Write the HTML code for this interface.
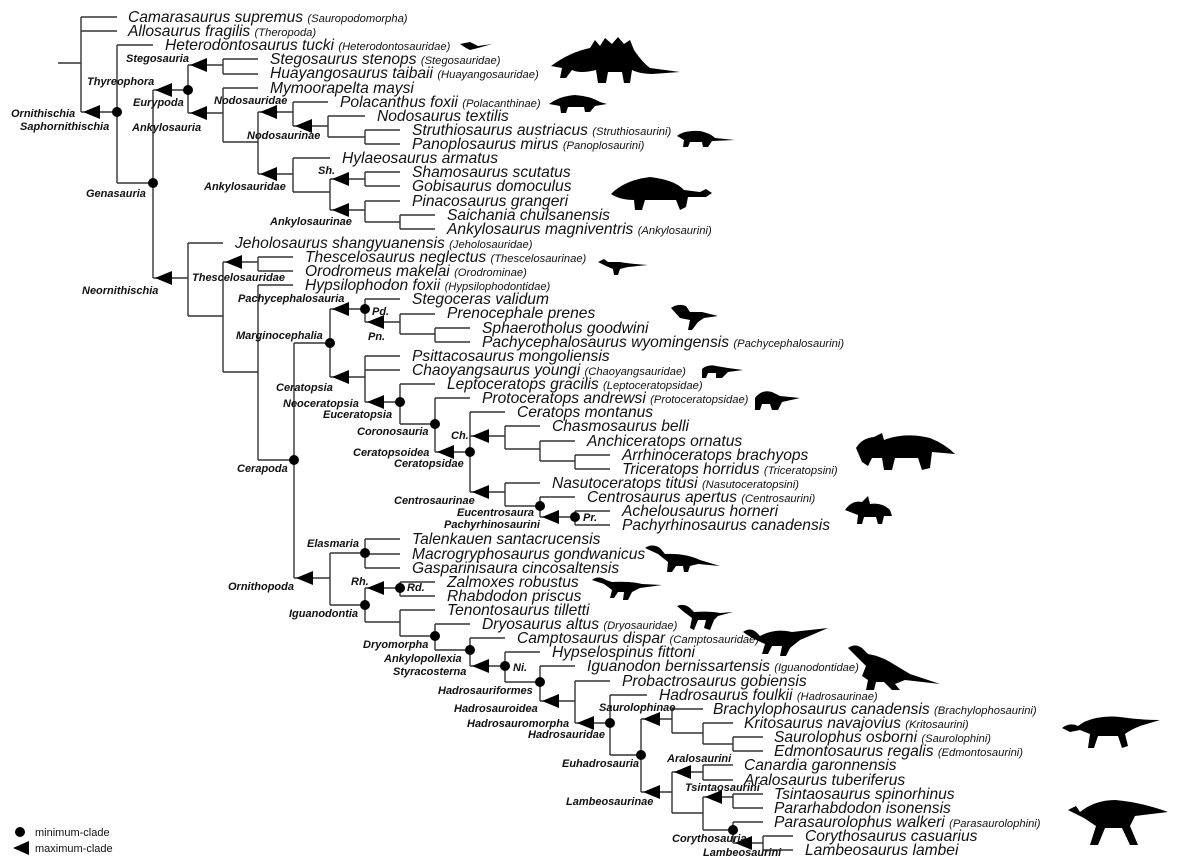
<!DOCTYPE html>
<html><head><meta charset="utf-8"><style>
html,body{margin:0;padding:0;background:#fff;}
svg{display:block;}
.sp{font-family:"Liberation Sans",sans-serif;font-style:italic;font-size:15.6px;fill:#111;}
.sp tspan{font-size:11.2px;}
.lb{font-family:"Liberation Sans",sans-serif;font-style:italic;font-weight:bold;font-size:11px;fill:#111;}
.lg{font-family:"Liberation Sans",sans-serif;font-size:11px;fill:#111;}
</style></head><body>
<svg width="1200" height="868" viewBox="0 0 1200 868" xmlns="http://www.w3.org/2000/svg">
<path fill="none" stroke="#333" stroke-width="1.4" d="
M58 63H81 M81 17V112 M81 17H117 M81 31H117 M81 112H117
M117 45V183 M117 45H153 M117 183H153
M153 90V278 M153 90H188 M188 65V113 M188 65H223 M223 59V74 M223 59H258 M223 74H258
M188 113H223 M223 88V142 M223 88H258 M223 142H258 M258 112V174 M258 112H293 M293 102V126 M293 102H328 M293 126H328 M328 116V137 M328 116H365 M328 137H365 M365 130V144 M365 130H400 M365 144H400
M258 174H293 M293 158V192 M293 158H330 M293 192H330 M330 179V210 M330 179H365 M365 172V186 M365 172H400 M365 186H400 M330 210H365 M365 201V222 M365 201H400 M365 222H400 M400 215V229 M400 215H435 M400 229H435
M153 278H188 M188 243V316 M188 243H223 M188 316H223 M223 262V372 M223 262H258 M258 257V271 M258 257H293 M258 271H293 M223 372H258 M258 285V460 M258 285H293 M258 460H294
M294 343V578 M294 343H330 M330 309V377 M330 309H365 M365 299V322 M365 299H400 M365 322H400 M400 314V334 M400 314H435 M400 334H435 M435 328V342 M435 328H470 M435 342H470
M330 377H365 M365 356V402 M365 356H400 M365 370H400 M365 402H400 M400 384V424 M400 384H435 M400 424H435 M435 398V452 M435 398H470 M435 452H470 M470 412V492 M470 412H505 M470 436H505 M505 426V449 M505 426H540 M505 449H540 M540 441V461 M540 441H575 M540 461H575 M575 455V469 M575 455H610 M575 469H610
M470 492H505 M505 483V506 M505 483H540 M505 506H540 M540 497V517 M540 497H575 M540 517H575 M575 511V525 M575 511H610 M575 525H610
M294 578H330 M330 553V605 M330 553H365 M365 539V568 M365 539H400 M365 554H400 M365 568H400 M330 605H365 M365 588V622 M365 588H400 M400 582V596 M400 582H435 M400 596H435 M365 622H400 M400 610V636 M400 610H435 M400 636H435 M435 624V650 M435 624H470 M435 650H470 M470 638V666 M470 638H505 M470 666H505 M505 652V682 M505 652H540 M505 682H540 M540 666V701 M540 666H575 M540 701H575 M575 681V723 M575 681H610 M575 723H610 M610 695V755 M610 695H647 M610 755H641 M641 719V792 M641 719H672 M672 709V733 M672 709H703 M672 733H703 M703 723V744 M703 723H733 M703 744H733 M733 737V751 M733 737H763 M733 751H763
M641 792H672 M672 772V813 M672 772H703 M703 765V780 M703 765H733 M703 780H733 M672 813H703 M703 797V830 M703 797H733 M733 794V808 M733 794H763 M733 808H763 M703 830H733 M733 822V843 M733 822H763 M733 843H763 M763 836V850 M763 836H793 M763 850H793"/>
<g fill="#000">
<polygon points="83,112 100,105 100,119"/><polygon points="155,90 172,83 172,97"/><polygon points="190,65 207,58 207,72"/><polygon points="190,113 207,106 207,120"/>
<polygon points="260,112 277,105 277,119"/><polygon points="295,126 312,119 312,133"/><polygon points="260,174 277,167 277,181"/><polygon points="332,179 349,172 349,186"/><polygon points="332,210 349,203 349,217"/>
<polygon points="155,278 172,271 172,285"/><polygon points="225,262 242,255 242,269"/><polygon points="332,309 349,302 349,316"/><polygon points="367,322 384,315 384,329"/><polygon points="332,377 349,370 349,384"/><polygon points="367,402 384,395 384,409"/>
<polygon points="437,452 454,445 454,459"/><polygon points="472,436 489,429 489,443"/><polygon points="472,492 489,485 489,499"/><polygon points="542,517 559,510 559,524"/>
<polygon points="296,578 313,571 313,585"/><polygon points="367,588 384,581 384,595"/><polygon points="472,666 489,659 489,673"/><polygon points="542,701 559,694 559,708"/><polygon points="577,723 594,716 594,730"/>
<polygon points="643,719 660,712 660,726"/><polygon points="643,792 660,785 660,799"/><polygon points="674,772 691,765 691,779"/><polygon points="705,797 722,790 722,804"/><polygon points="735,843 752,836 752,850"/>
<circle cx="117" cy="112" r="5"/><circle cx="153" cy="183" r="5"/><circle cx="188" cy="90" r="5"/><circle cx="294" cy="460" r="5"/><circle cx="330" cy="343" r="5"/><circle cx="365" cy="309" r="5"/><circle cx="400" cy="402" r="5"/><circle cx="435" cy="424" r="5"/><circle cx="470" cy="452" r="5"/><circle cx="540" cy="506" r="5"/><circle cx="575" cy="517" r="5"/><circle cx="365" cy="553" r="5"/><circle cx="365" cy="605" r="5"/><circle cx="400" cy="588" r="5"/><circle cx="435" cy="636" r="5"/><circle cx="470" cy="650" r="5"/><circle cx="505" cy="666" r="5"/><circle cx="540" cy="682" r="5"/><circle cx="610" cy="723" r="5"/><circle cx="641" cy="755" r="5"/><circle cx="733" cy="830" r="5"/>
<circle cx="20" cy="832" r="5"/><polygon points="13,848 29,841 29,855"/>
</g>
<g fill="#000">
<path d="M460 44 L470 42 L478 46 L492 44 L478 48 L470 50 L466 48 Z"/>
<path d="M551 66 Q570 52 590 48 L595 40 L600 46 L605 38 L612 44 L618 37 L624 44 L630 40 L634 50 Q642 62 650 68 L680 72 L652 74 Q640 74 632 70 L630 83 L624 83 L622 72 L608 72 L606 83 L598 83 L596 70 Q580 74 572 70 L566 78 L560 78 L562 68 Z"/>
<path d="M549 104 Q560 96 575 95 Q590 96 600 102 L607 104 L595 106 L590 112 L585 112 L584 107 L568 107 L566 113 L561 113 L560 106 Z"/>
<path d="M677 136 Q684 130 700 131 Q710 133 715 138 L735 140 L712 141 L708 147 L703 147 L702 142 L690 142 L688 147 L683 147 L684 140 Z"/>
<path d="M611 194 Q625 180 650 177 Q675 180 684 190 L700 192 L706 189 L712 193 L706 197 L688 197 L686 207 L680 210 L676 200 L645 200 L642 210 L635 210 L634 200 Q620 200 611 194 Z"/>
<path d="M598 262 L604 259 L608 262 L620 262 Q630 264 648 265 L628 267 L620 269 L618 275 L614 275 L613 269 L606 266 Z"/>
<path d="M671 308 Q678 303 686 306 L690 312 L702 312 Q710 314 718 316 L704 318 L698 322 L692 330 L688 330 L690 320 L680 318 Z"/>
<path d="M702 369 Q708 364 716 366 L728 368 L743 370 L728 372 L722 378 L716 378 L716 373 L708 373 L706 378 L702 378 Z"/>
<path d="M755 398 Q762 389 772 392 L780 396 L800 398 L782 402 L778 410 L772 410 L770 404 L762 404 L760 410 L755 410 Z"/>
<path d="M856 448 Q862 438 874 437 L882 433 L884 440 Q905 432 930 438 Q945 444 955 454 L932 452 L930 468 L922 470 L918 458 L895 458 L892 470 L884 470 L882 458 L872 458 L868 466 L862 462 Z"/>
<path d="M845 510 Q852 500 862 502 L868 496 L870 504 Q882 502 890 510 L892 516 L884 516 L882 524 L878 524 L876 517 L864 517 L862 524 L857 524 L858 515 Z"/>
<path d="M645 548 Q652 543 660 548 L665 554 Q685 553 700 560 L720 566 L698 564 L690 566 L688 572 L684 572 L683 566 L676 566 L672 572 L667 572 L668 562 L658 554 Z"/>
<path d="M592 580 Q598 575 606 580 L612 582 Q630 581 642 584 L662 585 L640 588 L632 592 L628 600 L623 600 L624 592 L618 592 L614 598 L610 598 L612 590 L604 584 Z"/>
<path d="M677 606 Q684 603 690 608 L694 612 Q710 611 720 613 L733 612 L718 616 L714 620 L710 630 L704 628 L706 620 L698 620 L694 630 L690 628 L692 618 L684 612 Z"/>
<path d="M743 632 Q750 627 756 632 L760 636 Q775 628 792 632 L828 628 L800 640 L790 648 L786 656 L780 656 L782 646 L772 646 L768 654 L762 654 L765 644 L752 638 Z"/>
<path d="M848 648 Q855 643 862 648 L868 654 Q880 656 890 662 L910 674 L940 684 L905 680 L895 684 L900 690 L892 690 L884 682 L876 682 L874 690 L866 690 L868 680 L862 676 L866 666 L856 656 Z"/>
<path d="M1062 728 Q1070 722 1078 726 L1084 722 Q1100 715 1120 717 Q1140 720 1160 720 L1140 726 Q1130 730 1125 734 L1128 746 L1122 748 L1118 736 L1098 736 L1094 748 L1088 748 L1090 734 L1080 730 L1070 732 Z"/>
<path d="M1068 810 L1076 806 L1080 812 Q1095 800 1115 800 Q1140 802 1168 812 L1135 816 L1130 826 L1138 845 L1130 845 L1122 828 L1105 828 L1098 845 L1090 845 L1096 826 L1084 818 Z"/>
</g>
<text class="sp" x="128" y="22">Camarasaurus supremus <tspan>(Sauropodomorpha)</tspan></text>
<text class="sp" x="128" y="36">Allosaurus fragilis <tspan>(Theropoda)</tspan></text>
<text class="sp" x="165" y="50">Heterodontosaurus tucki <tspan>(Heterodontosauridae)</tspan></text>
<text class="sp" x="270" y="64">Stegosaurus stenops <tspan>(Stegosauridae)</tspan></text>
<text class="sp" x="270" y="78">Huayangosaurus taibaii <tspan>(Huayangosauridae)</tspan></text>
<text class="sp" x="270" y="93">Mymoorapelta maysi</text>
<text class="sp" x="340" y="107">Polacanthus foxii <tspan>(Polacanthinae)</tspan></text>
<text class="sp" x="377" y="121">Nodosaurus textilis</text>
<text class="sp" x="412" y="135">Struthiosaurus austriacus <tspan>(Struthiosaurini)</tspan></text>
<text class="sp" x="412" y="149">Panoplosaurus mirus <tspan>(Panoplosaurini)</tspan></text>
<text class="sp" x="342" y="163">Hylaeosaurus armatus</text>
<text class="sp" x="412" y="177">Shamosaurus scutatus</text>
<text class="sp" x="412" y="191">Gobisaurus domoculus</text>
<text class="sp" x="412" y="206">Pinacosaurus grangeri</text>
<text class="sp" x="447" y="220">Saichania chulsanensis</text>
<text class="sp" x="447" y="234">Ankylosaurus magniventris <tspan>(Ankylosaurini)</tspan></text>
<text class="sp" x="235" y="248">Jeholosaurus shangyuanensis <tspan>(Jeholosauridae)</tspan></text>
<text class="sp" x="305" y="262">Thescelosaurus neglectus <tspan>(Thescelosaurinae)</tspan></text>
<text class="sp" x="305" y="276">Orodromeus makelai <tspan>(Orodrominae)</tspan></text>
<text class="sp" x="305" y="290">Hypsilophodon foxii <tspan>(Hypsilophodontidae)</tspan></text>
<text class="sp" x="412" y="304">Stegoceras validum</text>
<text class="sp" x="447" y="318">Prenocephale prenes</text>
<text class="sp" x="482" y="333">Sphaerotholus goodwini</text>
<text class="sp" x="482" y="347">Pachycephalosaurus wyomingensis <tspan>(Pachycephalosaurini)</tspan></text>
<text class="sp" x="412" y="361">Psittacosaurus mongoliensis</text>
<text class="sp" x="412" y="375">Chaoyangsaurus youngi <tspan>(Chaoyangsauridae)</tspan></text>
<text class="sp" x="447" y="389">Leptoceratops gracilis <tspan>(Leptoceratopsidae)</tspan></text>
<text class="sp" x="482" y="403">Protoceratops andrewsi <tspan>(Protoceratopsidae)</tspan></text>
<text class="sp" x="517" y="417">Ceratops montanus</text>
<text class="sp" x="552" y="431">Chasmosaurus belli</text>
<text class="sp" x="587" y="446">Anchiceratops ornatus</text>
<text class="sp" x="622" y="460">Arrhinoceratops brachyops</text>
<text class="sp" x="622" y="474">Triceratops horridus <tspan>(Triceratopsini)</tspan></text>
<text class="sp" x="552" y="488">Nasutoceratops titusi <tspan>(Nasutoceratopsini)</tspan></text>
<text class="sp" x="587" y="502">Centrosaurus apertus <tspan>(Centrosaurini)</tspan></text>
<text class="sp" x="622" y="516">Achelousaurus horneri</text>
<text class="sp" x="622" y="530">Pachyrhinosaurus canadensis</text>
<text class="sp" x="412" y="544">Talenkauen santacrucensis</text>
<text class="sp" x="412" y="559">Macrogryphosaurus gondwanicus</text>
<text class="sp" x="412" y="573">Gasparinisaura cincosaltensis</text>
<text class="sp" x="447" y="587">Zalmoxes robustus</text>
<text class="sp" x="447" y="601">Rhabdodon priscus</text>
<text class="sp" x="447" y="615">Tenontosaurus tilletti</text>
<text class="sp" x="482" y="629">Dryosaurus altus <tspan>(Dryosauridae)</tspan></text>
<text class="sp" x="517" y="643">Camptosaurus dispar <tspan>(Camptosauridae)</tspan></text>
<text class="sp" x="552" y="657">Hypselospinus fittoni</text>
<text class="sp" x="587" y="671">Iguanodon bernissartensis <tspan>(Iguanodontidae)</tspan></text>
<text class="sp" x="622" y="686">Probactrosaurus gobiensis</text>
<text class="sp" x="659" y="700">Hadrosaurus foulkii <tspan>(Hadrosaurinae)</tspan></text>
<text class="sp" x="713" y="714">Brachylophosaurus canadensis <tspan>(Brachylophosaurini)</tspan></text>
<text class="sp" x="744" y="728">Kritosaurus navajovius <tspan>(Kritosaurini)</tspan></text>
<text class="sp" x="774" y="742">Saurolophus osborni <tspan>(Saurolophini)</tspan></text>
<text class="sp" x="774" y="756">Edmontosaurus regalis <tspan>(Edmontosaurini)</tspan></text>
<text class="sp" x="744" y="770">Canardia garonnensis</text>
<text class="sp" x="744" y="785">Aralosaurus tuberiferus</text>
<text class="sp" x="774" y="799">Tsintaosaurus spinorhinus</text>
<text class="sp" x="774" y="813">Pararhabdodon isonensis</text>
<text class="sp" x="774" y="827">Parasaurolophus walkeri <tspan>(Parasaurolophini)</tspan></text>
<text class="sp" x="805" y="841">Corythosaurus casuarius</text>
<text class="sp" x="805" y="855">Lambeosaurus lambei</text>
<text class="lb" x="11" y="117">Ornithischia</text>
<text class="lb" x="20" y="130">Saphornithischia</text>
<text class="lb" x="87" y="85">Thyreophora</text>
<text class="lb" x="126" y="62">Stegosauria</text>
<text class="lb" x="133" y="106">Eurypoda</text>
<text class="lb" x="132" y="131">Ankylosauria</text>
<text class="lb" x="86" y="197">Genasauria</text>
<text class="lb" x="214" y="104">Nodosauridae</text>
<text class="lb" x="247" y="139">Nodosaurinae</text>
<text class="lb" x="318" y="174">Sh.</text>
<text class="lb" x="204" y="190">Ankylosauridae</text>
<text class="lb" x="270" y="225">Ankylosaurinae</text>
<text class="lb" x="82" y="294">Neornithischia</text>
<text class="lb" x="192" y="281">Thescelosauridae</text>
<text class="lb" x="238" y="302">Pachycephalosauria</text>
<text class="lb" x="236" y="339">Marginocephalia</text>
<text class="lb" x="372" y="315">Pd.</text>
<text class="lb" x="368" y="340">Pn.</text>
<text class="lb" x="276" y="391">Ceratopsia</text>
<text class="lb" x="283" y="407">Neoceratopsia</text>
<text class="lb" x="323" y="418">Euceratopsia</text>
<text class="lb" x="357" y="435">Coronosauria</text>
<text class="lb" x="451" y="439">Ch.</text>
<text class="lb" x="353" y="456">Ceratopsoidea</text>
<text class="lb" x="394" y="467">Ceratopsidae</text>
<text class="lb" x="237" y="472">Cerapoda</text>
<text class="lb" x="394" y="504">Centrosaurinae</text>
<text class="lb" x="457" y="516">Eucentrosaura</text>
<text class="lb" x="444" y="528">Pachyrhinosaurini</text>
<text class="lb" x="583" y="521">Pr.</text>
<text class="lb" x="307" y="547">Elasmaria</text>
<text class="lb" x="228" y="590">Ornithopoda</text>
<text class="lb" x="351" y="585">Rh.</text>
<text class="lb" x="407" y="591">Rd.</text>
<text class="lb" x="289" y="617">Iguanodontia</text>
<text class="lb" x="363" y="648">Dryomorpha</text>
<text class="lb" x="384" y="662">Ankylopollexia</text>
<text class="lb" x="393" y="675">Styracosterna</text>
<text class="lb" x="513" y="671">Ni.</text>
<text class="lb" x="438" y="694">Hadrosauriformes</text>
<text class="lb" x="454" y="712">Hadrosauroidea</text>
<text class="lb" x="467" y="727">Hadrosauromorpha</text>
<text class="lb" x="528" y="738">Hadrosauridae</text>
<text class="lb" x="599" y="711">Saurolophinae</text>
<text class="lb" x="562" y="767">Euhadrosauria</text>
<text class="lb" x="667" y="762">Aralosaurini</text>
<text class="lb" x="685" y="791">Tsintaosaurini</text>
<text class="lb" x="566" y="805">Lambeosaurinae</text>
<text class="lb" x="672" y="842">Corythosauria</text>
<text class="lb" x="703" y="856">Lambeosaurini</text>
<text class="lg" x="35" y="836">minimum-clade</text>
<text class="lg" x="35" y="852">maximum-clade</text>
</svg>
</body></html>
